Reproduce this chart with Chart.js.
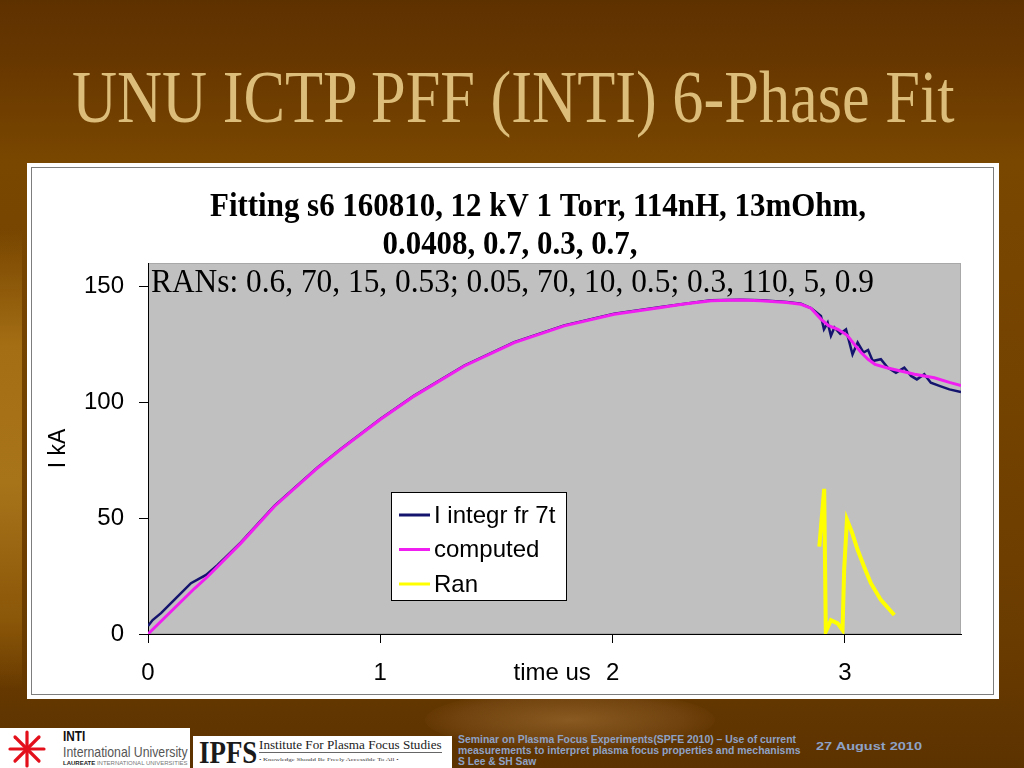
<!DOCTYPE html>
<html>
<head>
<meta charset="utf-8">
<script src="https://cdn.jsdelivr.net/npm/chart.js@4.4.1/dist/chart.umd.min.js"></script>
<style>
  html, body { margin: 0; padding: 0; }
  body {
    width: 1024px; height: 768px; overflow: hidden; position: relative;
    background: linear-gradient(to bottom, #5e3100 0%, #683800 9%, #7a4700 21%, #744300 50%, #6b3c00 82%, #5c3200 100%);
    font-family: "Liberation Sans", Arial, sans-serif;
  }
  .fit { display: inline-block; white-space: nowrap; transform-origin: left top; }
  #stripe {
    position: absolute; left: 0; top: 230px; width: 22px; height: 460px;
    background: linear-gradient(to bottom, rgba(160,106,16,0) 0%, #a46e14 25%, #a8741a 55%, #8a5608 85%, rgba(120,70,0,0) 100%);
  }
  #bowl {
    position: absolute; left: 425px; top: 690px; width: 290px; height: 60px; border-radius: 50%;
    background: radial-gradient(ellipse at center, rgba(170,120,60,0.55) 0%, rgba(140,90,40,0.35) 55%, rgba(120,70,20,0) 75%);
  }
  #slide-title {
    position: absolute; left: 72px; top: 61px;
    font-family: "Liberation Serif", "Times New Roman", serif; font-size: 73px; line-height: 1;
    color: #dcbd7a;
  }
  #frame {
    position: absolute; left: 27px; top: 163px; width: 972px; height: 536px; background: #fff;
  }
  #frame-inner {
    position: absolute; left: 4px; top: 4px; width: 961px; height: 526px; border: 1.5px solid #7d7d7d;
  }
  #chart-box { position: absolute; left: 0; top: 0; width: 972px; height: 536px; }
  #inti {
    position: absolute; left: 0; top: 728px; width: 190px; height: 40px; background: #fff;
  }
  #inti .name { position: absolute; left: 63px; top: 0px; font: bold 15px "Liberation Sans", sans-serif; color: #111; line-height: 15px; }
  #inti .uni { position: absolute; left: 63px; top: 16px; font: 15px "Liberation Sans", sans-serif; color: #555; line-height: 15px; }
  #inti .laur { position: absolute; left: 63px; top: 32px; font: 6px "Liberation Sans", sans-serif; color: #777; line-height: 6px; }
  #inti .laur b { color: #222; }
  #ipfs {
    position: absolute; left: 193px; top: 736px; width: 259px; height: 32px; background: #fff;
  }
  #ipfs .big { position: absolute; left: 6px; top: 1px; font: bold 32px "Liberation Serif", serif; color: #1a1a1a; line-height: 30px; }
  #ipfs .inst { position: absolute; left: 66px; top: 2px; font: 12.5px "Liberation Serif", serif; color: #222; border-bottom: 1px solid #666; line-height: 14px; }
  #ipfs .motto { position: absolute; left: 66px; top: 21px; font: 5px "Liberation Serif", serif; color: #333; line-height: 5px; }
  .foot {
    position: absolute; left: 458px;
    font: bold 10px "Liberation Sans", sans-serif; line-height: 11px; color: #8ea2c6;
  }
</style>
</head>
<body>
<div id="stripe"></div>
<div id="bowl"></div>
<div id="slide-title" class="fit" data-w="883">UNU ICTP PFF (INTI) 6-Phase Fit</div>

<div id="frame">
  <div id="frame-inner"></div>
  <div id="chart-box"><canvas id="chart" width="972" height="536"></canvas></div>
</div>

<div id="inti">
  <svg width="50" height="40" viewBox="0 0 50 40" style="position:absolute;left:2px;top:0">
    <g stroke="#e3101c" stroke-width="3.2" stroke-linecap="round">
      <line x1="25" y1="4" x2="25" y2="38"/>
      <line x1="8" y1="21" x2="42" y2="21"/>
      <line x1="13" y1="9" x2="37" y2="33"/>
      <line x1="37" y1="9" x2="13" y2="33"/>
    </g>
  </svg>
  <div class="name fit" data-w="22">INTI</div>
  <div class="uni fit" data-w="125">International University</div>
  <div class="laur fit" data-w="125"><b>LAUREATE</b> INTERNATIONAL UNIVERSITIES</div>
</div>
<div id="ipfs">
  <div class="big fit" data-w="58">IPFS</div>
  <div class="inst fit" data-w="183">Institute For Plasma Focus Studies</div>
  <div class="motto fit" data-w="140">• Knowledge Should Be Freely Accessible To All •</div>
</div>
<div class="foot fit" style="top:734px" data-w="338">Seminar on Plasma Focus Experiments(SPFE 2010) – Use of current</div>
<div class="foot fit" style="top:745px" data-w="342">measurements to interpret plasma focus properties and mechanisms</div>
<div class="foot fit" style="top:756px" data-w="78">S Lee &amp; SH Saw</div>
<div class="foot fit" style="top:741px;left:816px" data-w="106">27 August 2010</div>

<script>
// squeeze html texts to their widths
document.querySelectorAll('.fit').forEach(el => {
  el.style.transform = 'scaleX(' + (el.dataset.w / el.offsetWidth) + ')';
});

// chart texts
let titleLines = [
  'Fitting s6 160810, 12 kV 1 Torr, 114nH, 13mOhm,',
  '0.0408, 0.7, 0.3, 0.7,'
];
let ransLine = 'RANs: 0.6, 70, 15, 0.53; 0.05, 70, 10, 0.5; 0.3, 110, 5, 0.9';
let xTitle = 'time us';
let yTitle = 'I kA';
let seriesNames = ['I integr fr 7t', 'computed', 'Ran'];
let seriesColors = ['#14146e', '#f01ef0', '#ffff00'];

// measured current (integrated from trace)
let timeMeasured = [0, 0.02, 0.056, 0.113, 0.185, 0.25, 0.3, 0.4, 0.544, 0.73, 0.83, 1.0, 1.146, 1.362,
  1.577, 1.792, 2.007, 2.208, 2.424, 2.55, 2.639, 2.75, 2.811, 2.854, 2.897, 2.91, 2.926, 2.94, 2.955,
  2.98, 3.005, 3.033, 3.055, 3.08, 3.1, 3.12, 3.155, 3.184, 3.22, 3.256, 3.285, 3.31, 3.342, 3.37, 3.41,
  3.45, 3.5];
let currentMeasured = [3.5, 6, 9, 14.7, 21.9, 25.5, 29.8, 39.5, 55.3, 71.8, 79.8, 92.7, 102.8, 115.8,
  125.9, 133.1, 138.1, 141, 143.9, 144.2, 143.9, 143.2, 142.4, 140.6, 137.2, 131.4, 134.3, 128.6, 132.2,
  129.5, 131.4, 120.6, 125.7, 121.4, 122.5, 117.7, 118.5, 114.9, 112.7, 114.9, 111.3, 109.8, 112, 108.4, 106.9,
  105.5, 104.3];

// computed current (model)
let timeComputed = [0, 0.1, 0.2, 0.257, 0.4, 0.544, 0.73, 0.83, 1.0, 1.146, 1.362, 1.577, 1.792, 2.007,
  2.208, 2.3, 2.424, 2.55, 2.639, 2.75, 2.811, 2.854, 2.897, 2.93, 2.97, 3.01, 3.04, 3.07, 3.1, 3.13,
  3.18, 3.24, 3.3, 3.385, 3.45, 3.5];
let currentComputed = [0, 9.8, 19.6, 24.8, 39.2, 55, 71.6, 79.6, 92.5, 102.6, 115.6, 125.7, 132.9, 137.9,
  140.8, 142.2, 143.7, 144, 143.7, 143, 142.2, 140.5, 135.8, 133, 131.4, 128.8, 125, 121.4, 118.5, 116.3,
  114.8, 113.4, 112, 110.5, 108.5, 107.2];

// Ran
let timeRan = [2.89, 2.911, 2.918, 2.94, 2.969, 2.99, 2.997, 3.009, 3.03, 3.055, 3.085, 3.112, 3.155, 3.213];
let currentRan = [37.7, 62.6, 1, 6, 4.6, 1.7, 27.7, 49.3, 44, 36.3, 28.5, 21.9, 14.7, 8.2];

let xTicks = [0, 1, 2, 3];
let yTicks = [0, 50, 100, 150];

function pairs(xs, ys) {
  return xs.map((x, i) => ({ x: x, y: ys[i] }));
}

let plotBackground = {
  id: 'plotBackground',
  beforeDraw(chart) {
    let ctx = chart.ctx, ca = chart.chartArea;
    ctx.save();
    ctx.fillStyle = '#c0c0c0';
    ctx.fillRect(ca.left, ca.top, ca.right - ca.left, ca.bottom - ca.top);
    ctx.strokeStyle = '#a8a8a8';
    ctx.lineWidth = 1;
    ctx.strokeRect(ca.left + 0.5, ca.top + 0.5, ca.right - ca.left - 1, ca.bottom - ca.top - 1);
    ctx.restore();
  }
};

function fitText(ctx, text, cx, y, width) {
  let w = ctx.measureText(text).width;
  ctx.save();
  ctx.translate(cx, y);
  ctx.scale(width / w, 1);
  ctx.textAlign = 'center';
  ctx.fillText(text, 0, 0);
  ctx.restore();
}

let chartTexts = {
  id: 'chartTexts',
  afterDraw(chart) {
    let ctx = chart.ctx, ca = chart.chartArea;
    ctx.save();
    ctx.fillStyle = '#000';
    ctx.textBaseline = 'alphabetic';

    ctx.font = 'bold 34px "Liberation Serif", "Times New Roman", serif';
    fitText(ctx, titleLines[0], 511, 53, 656);
    fitText(ctx, titleLines[1], 483, 91, 255);
    ctx.font = '34px "Liberation Serif", "Times New Roman", serif';
    fitText(ctx, ransLine, ca.left + 3 + 723 / 2, 129, 723);

    // axis titles
    ctx.font = '23px "Liberation Sans", Arial, sans-serif';
    ctx.save();
    ctx.translate(ca.left - 89, (ca.top + ca.bottom) / 2);
    ctx.rotate(-Math.PI / 2);
    ctx.textAlign = 'center';
    ctx.textBaseline = 'middle';
    ctx.fillText(yTitle, 0, 0);
    ctx.restore();

    ctx.font = '24px "Liberation Sans", Arial, sans-serif';
    ctx.textAlign = 'center';
    ctx.textBaseline = 'middle';
    ctx.fillText(xTitle, chart.scales.x.getPixelForValue(1.74), ca.bottom + 39);

    // legend
    let lx = ca.left + 243, ly = ca.top + 229, lw = 175, lh = 108;
    ctx.fillStyle = '#fff';
    ctx.fillRect(lx, ly, lw, lh);
    ctx.strokeStyle = '#000';
    ctx.lineWidth = 1;
    ctx.strokeRect(lx + 0.5, ly + 0.5, lw, lh);
    ctx.font = '24px "Liberation Sans", Arial, sans-serif';
    ctx.textAlign = 'left';
    for (let i = 0; i < seriesNames.length; ++i) {
      let y = ly + 23 + i * 34.5;
      ctx.strokeStyle = seriesColors[i];
      ctx.lineWidth = 3;
      ctx.beginPath();
      ctx.moveTo(lx + 8, y);
      ctx.lineTo(lx + 39, y);
      ctx.stroke();
      ctx.fillStyle = '#000';
      ctx.fillText(seriesNames[i], lx + 43, y + 1);
    }
    ctx.restore();
  }
};

let tickFont = { family: '"Liberation Sans", Arial, sans-serif', size: 24 };

new Chart(document.getElementById('chart'), {
  type: 'line',
  data: {
    datasets: [
      { label: seriesNames[0], data: pairs(timeMeasured, currentMeasured), borderColor: seriesColors[0], borderWidth: 2.5, order: 2 },
      { label: seriesNames[1], data: pairs(timeComputed, currentComputed), borderColor: seriesColors[1], borderWidth: 3, order: 1 },
      { label: seriesNames[2], data: pairs(timeRan, currentRan), borderColor: seriesColors[2], borderWidth: 4, order: 0 }
    ]
  },
  options: {
    responsive: false,
    animation: false,
    layout: { padding: { top: 100, right: 38, left: 0, bottom: 0 } },
    elements: { point: { radius: 0 }, line: { tension: 0, fill: false } },
    plugins: { legend: { display: false }, tooltip: { enabled: false } },
    scales: {
      x: {
        type: 'linear', min: 0, max: 3.5,
        afterBuildTicks: scale => { scale.ticks = xTicks.map(v => ({ value: v })); },
        afterFit: scale => { scale.height = 65; },
        ticks: { color: '#000', font: tickFont, padding: 16, maxRotation: 0, callback: v => v },
        grid: { drawOnChartArea: false, drawTicks: true, tickLength: 9, color: '#000' },
        border: { color: '#000', width: 1 }
      },
      y: {
        type: 'linear', min: 0, max: 160,
        afterBuildTicks: scale => { scale.ticks = yTicks.map(v => ({ value: v })); },
        afterFit: scale => { scale.width = 121; },
        ticks: { color: '#000', font: tickFont, padding: 15, callback: v => v },
        grid: { drawOnChartArea: false, drawTicks: true, tickLength: 9, color: '#000' },
        border: { color: '#000', width: 1 }
      }
    }
  },
  plugins: [plotBackground, chartTexts]
});
</script>
</body>
</html>
